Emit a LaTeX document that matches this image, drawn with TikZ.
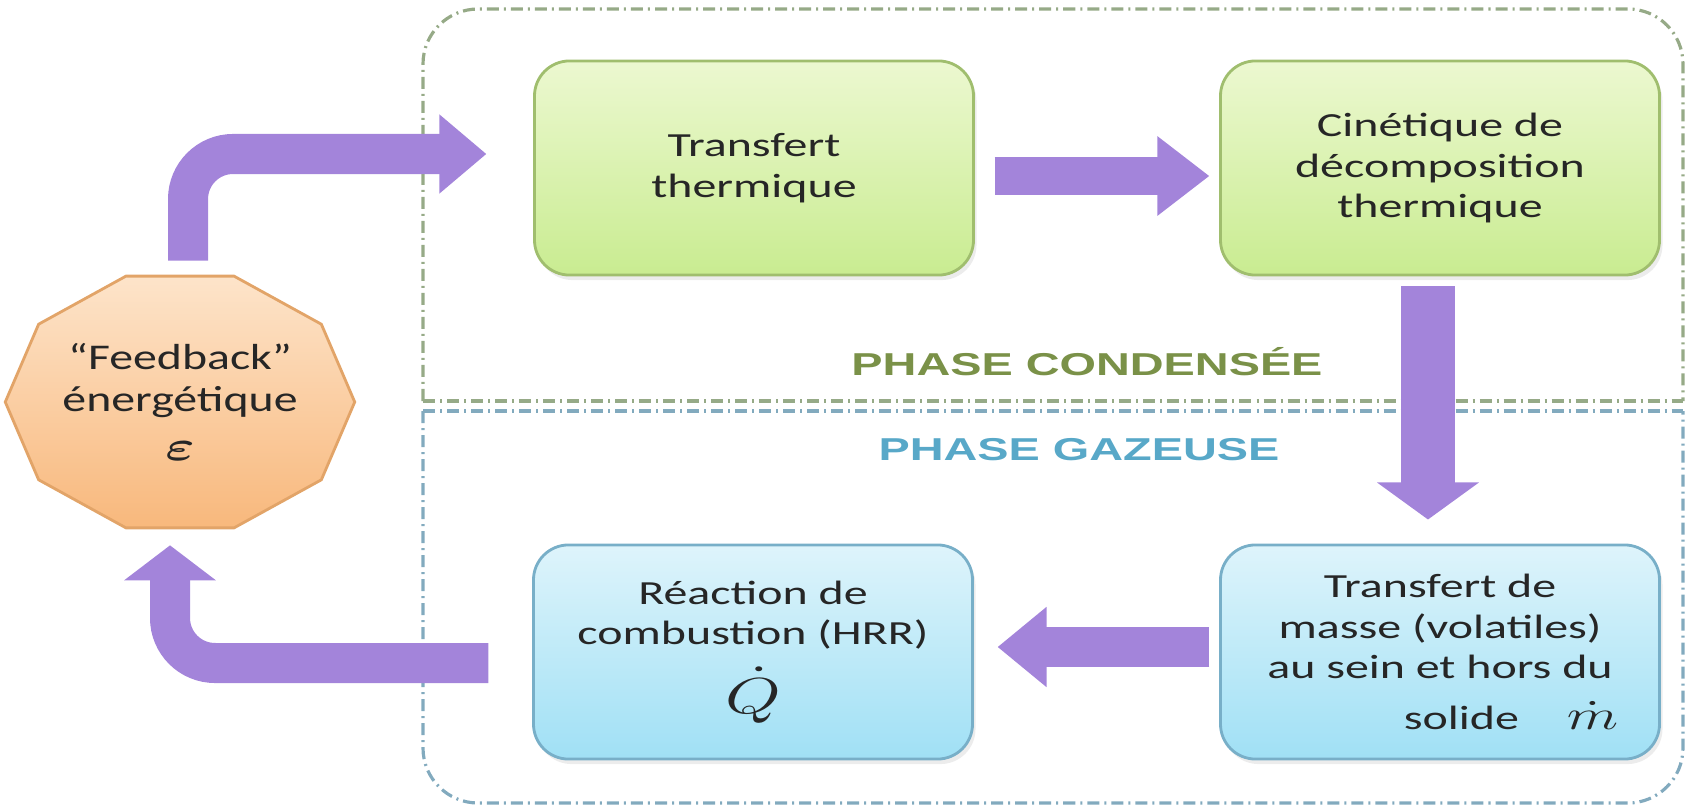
\documentclass[tikz,border=0pt]{standalone}
\usepackage{bm}
\usepackage{fontspec}
\setmainfont{Carlito}
\newfontfamily\phasefont{Liberation Sans}
\usetikzlibrary{arrows.meta,shapes.geometric,shadows}

\definecolor{arrowpurple}{RGB}{163,132,218}
\definecolor{greentop}{RGB}{236,248,208}
\definecolor{greenbot}{RGB}{201,236,145}
\definecolor{greenline}{RGB}{160,190,110}
\definecolor{bluetop}{RGB}{222,244,251}
\definecolor{bluebot}{RGB}{160,224,245}
\definecolor{blueline}{RGB}{120,175,200}
\definecolor{orangetop}{RGB}{253,228,202}
\definecolor{orangebot}{RGB}{248,184,124}
\definecolor{orangeline}{RGB}{226,164,104}
\definecolor{condline}{RGB}{150,170,135}
\definecolor{gasline}{RGB}{130,170,190}
\definecolor{condtext}{RGB}{122,145,72}
\definecolor{gastext}{RGB}{88,168,200}

\begin{document}
\begin{tikzpicture}[x=0.01cm, y=-0.01cm,
    box/.style={rectangle, rounded corners=0.35cm, minimum width=3.09cm, minimum height=2.14cm,
        align=center, xscale=1.42, transform shape, line width=0.8pt, text=black!85,
        font=\fontsize{9.6pt}{11.5pt}\selectfont,
        drop shadow={opacity=0.15, shadow xshift=0.03cm, shadow yshift=-0.05cm}},
    condbox/.style={box, draw=greenline, top color=greentop, bottom color=greenbot},
    gasbox/.style={box, draw=blueline, top color=bluetop, bottom color=bluebot},
    feedbk/.style={regular polygon, regular polygon sides=10, minimum size=2.52cm, inner sep=0pt,
        xscale=1.32, transform shape, align=center, line width=0.8pt, text=black!85,
        draw=orangeline, top color=orangetop, bottom color=orangebot,
        font=\fontsize{10.3pt}{12pt}\selectfont},
    phaselabel/.style={font=\phasefont\bfseries\fontsize{9pt}{10pt}\selectfont, xscale=1.48, transform shape},
    phaseline/.style={line width=0.9pt, dash pattern=on 0.12cm off 0.05cm on 0.02cm off 0.05cm},
    flow/.style={draw=arrowpurple, line width=0.4cm}]

    \useasboundingbox (0,0) rectangle (1690,809);

    % Condensed phase region (top)
    \draw[phaseline, draw=condline, rounded corners=0.55cm] (423,401) -- (423,9) -- (1683,9) -- (1683,401);
    \draw[phaseline, draw=condline] (423,401) -- (1683,401);
    % Gas phase region (bottom)
    \draw[phaseline, draw=gasline, rounded corners=0.55cm] (423,411) -- (423,803) -- (1683,803) -- (1683,411);
    \draw[phaseline, draw=gasline] (423,411) -- (1683,411);

    \node[phaselabel, text=condtext] (cond) at (1087,362) {PHASE CONDENSÉE};
    \node[phaselabel, text=gastext] (gas) at (1079,450) {PHASE GAZEUSE};

    % Process boxes
    \node[condbox] (tt) at (754,168) {Transfert\\thermique};
    \node[condbox] (cin) at (1440,168) {Cinétique de\\décomposition\\thermique};
    \node[gasbox] (masse) at (1440,652) {Transfert de\\masse (volatiles)\\au sein et hors du\\[3pt]\hspace*{1cm}solide\quad{\large$\dot{m}$}};
    \node[gasbox] (react) at (753,652) {Réaction de\\combustion (HRR)\\[4pt]{\Large$\dot{Q}$}};

    % Energy feedback
    \node[feedbk] (fb) at (180,402) {“Feedback”\\énergétique\\[2pt]{\large$\bm{\varepsilon}$}};

    % Arrows
    \draw[flow, rounded corners=0.45cm, -{Triangle[length=0.47cm,width=0.76cm]}, shorten <=0.14cm, shorten >=0.46cm]
        ([xshift=0.08cm]fb.north) |- ([yshift=0.14cm]tt.west);
    \draw[flow, line width=0.38cm, -{Triangle[length=0.52cm,width=0.76cm]}, shorten <=0.19cm, shorten >=0.09cm]
        ([yshift=-0.08cm]tt.east) -- ([yshift=-0.08cm]cin.west);
    \draw[flow, line width=0.54cm, -{Triangle[length=0.37cm,width=1.0cm]}, shorten <=0.1cm, shorten >=0.24cm]
        ([xshift=-0.12cm]cin.south) -- ([xshift=-0.12cm]masse.north);
    \draw[flow, line width=0.39cm, -{Triangle[length=0.49cm,width=0.77cm]}, shorten <=0.09cm, shorten >=0.23cm]
        ([yshift=0.05cm]masse.west) -- ([yshift=0.05cm]react.east);
    \draw[flow, rounded corners=0.45cm, -{Triangle[length=0.35cm,width=0.9cm]}, shorten <=0.43cm, shorten >=0.16cm]
        ([yshift=-0.11cm]react.west) -| ([xshift=-0.1cm]fb.south);
\end{tikzpicture}
\end{document}
